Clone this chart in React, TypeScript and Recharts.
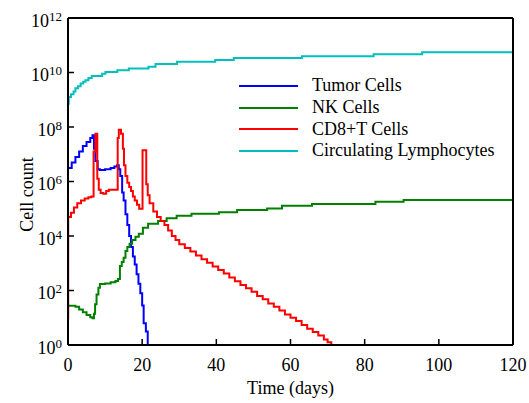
import { ComposedChart, Line, XAxis, YAxis, Label } from "recharts";

const FONT = '"Liberation Serif", "Times New Roman", serif';

const xTicks = [0, 20, 40, 60, 80, 100, 120];
const yTicks = [1, 1e2, 1e4, 1e6, 1e8, 1e10, 1e12];

// time (days) and log10(cell count)
const tumorT = [0, 1, 2, 3, 4, 5, 6, 6.6, 7, 7.4, 8, 8.6, 10, 11.5, 12.5, 13.2, 13.7, 14.1, 14.6, 15, 15.5, 16, 16.5, 17, 17.5, 18, 18.5, 19, 19.5, 20, 20.4, 21, 21.5];
const tumorLog = [6.5, 6.7, 6.9, 7.1, 7.3, 7.45, 7.6, 7.7, 7.2, 6.75, 6.45, 6.42, 6.45, 6.5, 6.55, 6.6, 6.45, 6.2, 5.6, 5.3, 4.8, 4.4, 4.0, 3.6, 3.25, 2.95, 2.6, 2.25, 1.9, 1.45, 0.8, 0.5, 0];

const nkT = [0, 2, 3, 4, 5, 6, 6.6, 7, 7.3, 7.7, 8.2, 8.6, 10, 11.5, 12.8, 13.5, 14, 14.5, 15, 15.5, 16, 16.6, 17.3, 18.2, 19.1, 20.2, 21.6, 24.3, 26.6, 29.3, 33.3, 40.7, 45.6, 53.7, 57.7, 65.8, 82.9, 90.5, 120];
const nkLog = [1.44, 1.4, 1.3, 1.2, 1.1, 1.02, 0.98, 1.15, 1.5, 1.85, 2.1, 2.24, 2.26, 2.3, 2.35, 2.42, 2.9, 3.05, 3.2, 3.45, 3.6, 3.72, 3.85, 3.97, 4.08, 4.3, 4.45, 4.55, 4.65, 4.74, 4.82, 4.87, 4.95, 5.01, 5.11, 5.17, 5.26, 5.32, 5.32];

const cd8T = [0, 0.05, 0.8, 1.6, 2.5, 3.5, 4.5, 5.5, 6.3, 6.9, 7.4, 7.9, 8.3, 8.8, 9.5, 10.3, 11, 13.4, 13.7, 14.3, 14.8, 15.1, 15.5, 16, 16.5, 17, 17.5, 18, 18.6, 19.2, 20.1, 21.1, 21.5, 22, 23, 24, 25, 26, 27, 28, 29, 30, 31.5, 33, 34.5, 36, 37.5, 39, 40.5, 42, 43.5, 45, 46.5, 48, 49.5, 51, 52.5, 54, 55.5, 57, 58.5, 60, 61.5, 63, 64.5, 66, 67.5, 69, 70, 71];
const cd8Log = [1.0, 4.7, 4.85, 5.05, 5.2, 5.3, 5.38, 5.42, 5.45, 7.1, 7.75, 6.1, 5.7, 5.58, 5.55, 5.65, 5.7, 7.6, 7.9, 7.75, 7.2, 6.6, 6.2, 5.95, 5.8, 5.65, 5.45, 5.3, 5.15, 5.0, 7.15, 5.9, 5.5, 5.2, 4.9, 4.7, 4.55, 4.4, 4.2, 4.0, 3.85, 3.7, 3.56, 3.43, 3.28, 3.15, 3.02, 2.88, 2.75, 2.62, 2.48, 2.34, 2.2, 2.08, 1.95, 1.8, 1.68, 1.52, 1.4, 1.27, 1.12, 1.0, 0.88, 0.73, 0.6, 0.48, 0.35, 0.2, 0.1, 0];

const lymphT = [0, 0.2, 0.8, 1.5, 2, 2.7, 3.4, 4.1, 4.7, 5.5, 6.4, 9.2, 10.1, 13.3, 16.4, 21.7, 23.6, 29.4, 39.7, 44.7, 63.1, 82.4, 95.5, 120];
const lymphLog = [8.85, 9.1, 9.2, 9.3, 9.42, 9.5, 9.6, 9.66, 9.72, 9.8, 9.87, 9.95, 10.02, 10.08, 10.15, 10.21, 10.31, 10.39, 10.46, 10.53, 10.6, 10.67, 10.74, 10.74];

const seriesNames = ["Tumor Cells", "NK Cells", "CD8+T Cells", "Circulating Lymphocytes"];
const seriesColors = ["#0000ff", "#008000", "#ff0000", "#00bfbf"];

const toRows = (ts: number[], logs: number[]) =>
  ts.map((t, i) => ({ t, v: 10 ** logs[i] }));

const seriesData = [
  toRows(tumorT, tumorLog),
  toRows(nkT, nkLog),
  toRows(cd8T, cd8Log),
  toRows(lymphT, lymphLog),
];

/* Inward ticks on all four sides, labels only on left / bottom */
const LeftTick = (props: any) => {
  const { x, y, payload } = props;
  const exp = Math.round(Math.log10(payload.value));
  return (
    <g>
      <line x1={x} y1={y} x2={x + 6} y2={y} stroke="#000" strokeWidth={1.5} />
      <text x={x - 6} y={y + 8.5} textAnchor="end" fontFamily={FONT} fontSize={18} fill="#000">
        10
        <tspan dy={-6} fontSize={13}>
          {exp}
        </tspan>
      </text>
    </g>
  );
};

const BottomTick = (props: any) => {
  const { x, y, payload } = props;
  return (
    <g>
      <line x1={x} y1={y} x2={x} y2={y - 6} stroke="#000" strokeWidth={1.5} />
      <text x={x} y={y + 25.5} textAnchor="middle" fontFamily={FONT} fontSize={18} fill="#000">
        {payload.value}
      </text>
    </g>
  );
};

const TopTick = (props: any) => (
  <line x1={props.x} y1={props.y} x2={props.x} y2={props.y + 6} stroke="#000" strokeWidth={1.5} />
);

const RightTick = (props: any) => (
  <line x1={props.x} y1={props.y} x2={props.x - 6} y2={props.y} stroke="#000" strokeWidth={1.5} />
);

const YTitle = (props: any) => {
  const { x, y, height } = props.viewBox;
  const cx = x + 33;
  const cy = y + height / 2 + 13;
  return (
    <text x={cx} y={cy} transform={`rotate(-90 ${cx} ${cy})`} textAnchor="middle" fontFamily={FONT} fontSize={18} fill="#000">
      Cell count
    </text>
  );
};

const XTitle = (props: any) => {
  const { x, y, width } = props.viewBox;
  return (
    <text x={x + width / 2} y={y + 49} textAnchor="middle" fontFamily={FONT} fontSize={18} fill="#000">
      Time (days)
    </text>
  );
};

function ChartLegend() {
  return (
    <div style={{ position: "absolute", left: 239, top: 75, fontFamily: FONT, fontSize: 18, color: "#000" }}>
      {seriesNames.map((name, i) => (
        <div key={name} style={{ display: "flex", alignItems: "center", height: 21.7, whiteSpace: "nowrap" }}>
          <span style={{ display: "inline-block", width: 59, height: 2, background: seriesColors[i], marginRight: 14 }} />
          {name}
        </div>
      ))}
    </div>
  );
}

export default function App() {
  // pinned to the window corner so the body margin does not shift it
  return (
    <div style={{ position: "fixed", left: 0, top: 0, width: 529, height: 403, background: "#fff" }}>
      <ComposedChart width={529} height={403} margin={{ top: 17, right: 15, bottom: 0, left: 0 }}>
        <XAxis
          dataKey="t"
          type="number"
          domain={[0, 120]}
          ticks={xTicks}
          interval={0}
          height={58}
          tickSize={0}
          tickMargin={0}
          tickLine={false}
          tick={BottomTick}
          axisLine={{ stroke: "#000", strokeWidth: 2 }}
          label={<Label content={XTitle} />}
        />
        <XAxis
          xAxisId="top"
          orientation="top"
          dataKey="t"
          type="number"
          domain={[0, 120]}
          ticks={xTicks}
          interval={0}
          height={1}
          tickSize={0}
          tickMargin={0}
          tickLine={false}
          tick={TopTick}
          axisLine={{ stroke: "#000", strokeWidth: 2 }}
        />
        <YAxis
          type="number"
          scale="log"
          domain={[1, 1e12]}
          ticks={yTicks}
          interval={0}
          width={68}
          tickSize={0}
          tickMargin={0}
          tickLine={false}
          tick={LeftTick}
          axisLine={{ stroke: "#000", strokeWidth: 2 }}
          label={<Label content={YTitle} />}
        />
        <YAxis
          yAxisId="r"
          orientation="right"
          type="number"
          scale="log"
          domain={[1, 1e12]}
          ticks={yTicks}
          interval={0}
          width={1}
          tickSize={0}
          tickMargin={0}
          tickLine={false}
          tick={RightTick}
          axisLine={{ stroke: "#000", strokeWidth: 2 }}
        />
        {seriesData.map((rows, i) => (
          <Line
            key={seriesNames[i]}
            data={rows}
            dataKey="v"
            name={seriesNames[i]}
            type="stepAfter"
            stroke={seriesColors[i]}
            strokeWidth={2}
            dot={false}
            isAnimationActive={false}
          />
        ))}
      </ComposedChart>
      <ChartLegend />
    </div>
  );
}
